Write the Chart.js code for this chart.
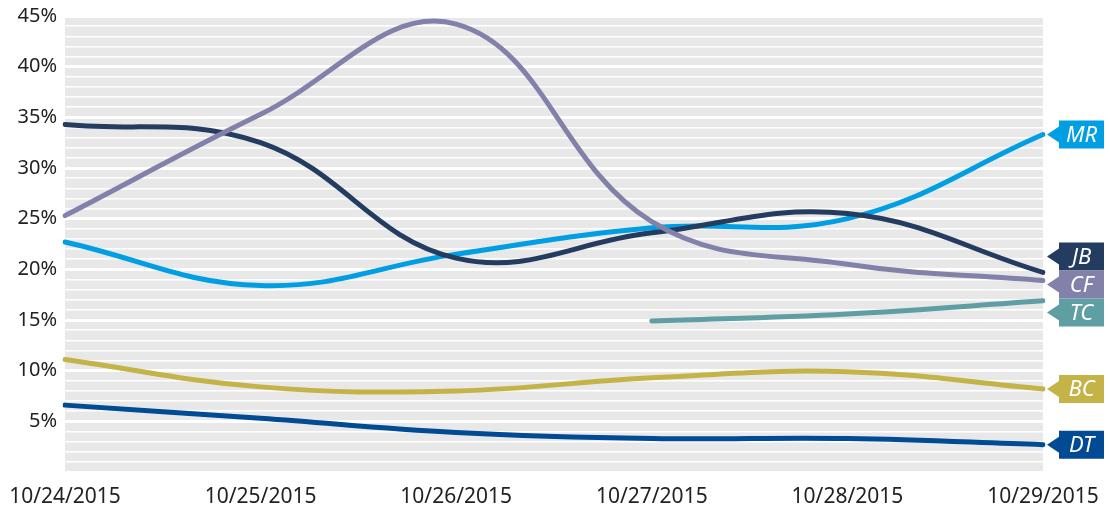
<!DOCTYPE html>
<html>
<head>
    <title>Poll Trend</title>
    <script src="https://cdn.jsdelivr.net/npm/chart.js"></script>
    <style>
        body { margin: 0; background: #fff; }
        #wrap { width: 1110px; height: 510px; }
    </style>
</head>
<body>
<div id="wrap"><canvas id="myChart" width="1110" height="510"></canvas></div>

<script>
// categories and values (percent)
var dates = ['10/24/2015', '10/25/2015', '10/26/2015', '10/27/2015', '10/28/2015', '10/29/2015'];
var MR = [22.7, 18.4, 21.5, 24.1, 25.0, 33.3];
var JB = [34.3, 32.5, 21.1, 23.6, 25.5, 19.7];
var CF = [25.3, 35.3, 44.2, 24.7, 20.5, 18.9];
var TC = [null, null, null, 14.9, 15.6, 16.9];
var BC = [11.1, 8.4, 8.0, 9.3, 9.9, 8.2];
var DT = [6.6, 5.3, 3.9, 3.3, 3.3, 2.7];
var yTicks = [5, 10, 15, 20, 25, 30, 35, 40, 45];

function series(label, data, color) {
    return {
        label: label, data: data, borderColor: color, backgroundColor: color,
        borderWidth: 5, pointRadius: 0, tension: 0.4, borderCapStyle: 'round', spanGaps: false
    };
}

// gray plot background
var bgPlugin = {
    id: 'bg',
    beforeDraw: function(chart) {
        var a = chart.chartArea, c = chart.ctx;
        c.save();
        c.fillStyle = '#e8e8e8';
        c.fillRect(a.left, a.top, a.right - a.left, a.bottom - a.top);
        c.restore();
    }
};

// name tags on the right
var tagPlugin = {
    id: 'tags',
    afterDatasetsDraw: function(chart) {
        var c = chart.ctx, y = chart.scales.y, a = chart.chartArea;
        var tags = chart.data.datasets.map(function(ds) {
            var v = ds.data[ds.data.length - 1];
            return { label: ds.label, color: ds.borderColor, y: y.getPixelForValue(v) };
        });
        tags.sort(function(p, q) { return p.y - q.y; });
        // push overlapping tags apart
        var h = 28;
        for (var it = 0; it < 50; it++) {
            for (var i = 1; i < tags.length; i++) {
                var d = tags[i].y - tags[i - 1].y;
                if (d < h) {
                    var s = (h - d) / 2;
                    tags[i].y += s; tags[i - 1].y -= s;
                }
            }
        }
        c.save();
        tags.forEach(function(t) {
            var x0 = a.right + 16, x1 = 1104, tip = a.right + 4;
            c.fillStyle = t.color;
            c.beginPath();
            c.moveTo(tip, t.y);
            c.lineTo(x0, t.y - 8);
            c.lineTo(x0, t.y - h / 2);
            c.lineTo(x1, t.y - h / 2);
            c.lineTo(x1, t.y + h / 2);
            c.lineTo(x0, t.y + h / 2);
            c.lineTo(x0, t.y + 8);
            c.closePath();
            c.fill();
            c.fillStyle = '#fff';
            c.font = 'italic 22px "Noto Sans"';
            c.textAlign = 'center';
            c.textBaseline = 'middle';
            c.fillText(t.label, (x0 + x1) / 2, t.y + 1);
        });
        c.restore();
    }
};

var ctx = document.getElementById('myChart').getContext('2d');
var myChart = new Chart(ctx, {
    type: 'line',
    data: {
        labels: dates,
        datasets: [
            series('DT', DT, '#004b93'),
            series('BC', BC, '#c4b347'),
            series('TC', TC, '#5f9ea2'),
            series('CF', CF, '#8281a9'),
            series('JB', JB, '#233c60'),
            series('MR', MR, '#009ee2')
        ]
    },
    options: {
        responsive: false,
        animation: false,
        elements: { line: { capBezierPoints: false } },
        layout: { padding: { top: 16, right: 67, left: 0, bottom: 0 } },
        plugins: { legend: { display: false }, tooltip: { enabled: false } },
        scales: {
            x: {
                offset: false,
                grid: { display: false },
                border: { display: false },
                ticks: { color: '#222', font: { family: 'Noto Sans', size: 21 }, maxRotation: 0, padding: 4 },
                afterFit: function(s) { s.height = 38; s.paddingLeft = 0; s.paddingRight = 0; }
            },
            y: {
                min: 0, max: 45,
                border: { display: false },
                grid: {
                    color: '#ffffff',
                    lineWidth: function(c) { return c.tick.value % 5 === 0 ? 3 : 1.5; },
                    drawTicks: false
                },
                ticks: {
                    stepSize: 1,
                    autoSkip: false,
                    padding: 8,
                    color: '#222',
                    font: { family: 'Noto Sans', size: 20 },
                    callback: function(v) { return yTicks.indexOf(v) >= 0 ? v + '%' : ''; }
                },
                afterFit: function(s) { s.width = 65; s.paddingTop = 0; s.paddingBottom = 0; }
            }
        }
    },
    plugins: [bgPlugin, tagPlugin]
});
</script>
</body>
</html>
